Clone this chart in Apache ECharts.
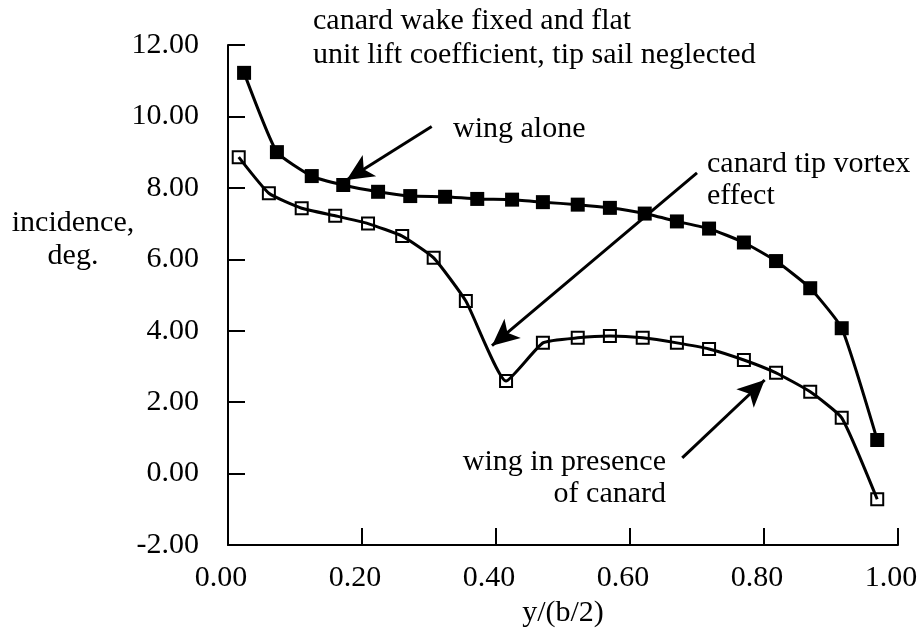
<!DOCTYPE html>
<html>
<head>
<meta charset="utf-8">
<script src="https://cdn.jsdelivr.net/npm/echarts@6/dist/echarts.min.js"></script>
<style>
  html, body { margin: 0; padding: 0; background: #fff; }
  #chart { width: 924px; height: 643px; }
</style>
</head>
<body>
<div id="chart"></div>
<script>
// Spanwise stations y/(b/2) and incidence (deg.) for each case
const wingAloneX = [0.024, 0.073, 0.125, 0.172, 0.224, 0.272, 0.324, 0.372, 0.424, 0.470,
                    0.522, 0.570, 0.622, 0.670, 0.718, 0.770, 0.818, 0.869, 0.916, 0.969];
const wingAloneY = [11.22, 9.00, 8.33, 8.08, 7.89, 7.77, 7.75, 7.69, 7.67, 7.60,
                    7.53, 7.44, 7.28, 7.06, 6.86, 6.47, 5.95, 5.19, 4.07, 0.94];
const withCanardX = [0.016, 0.061, 0.110, 0.160, 0.209, 0.260, 0.307, 0.355, 0.415, 0.470,
                     0.522, 0.570, 0.619, 0.670, 0.718, 0.770, 0.818, 0.869, 0.916, 0.969];
const withCanardY = [8.86, 7.85, 7.43, 7.22, 7.00, 6.65, 6.04, 4.83, 2.59, 3.66,
                     3.80, 3.85, 3.80, 3.66, 3.49, 3.18, 2.82, 2.29, 1.56, -0.72];

// Axis ranges
const xMin = 0, xMax = 1, xStep = 0.2;
const yMin = -2, yMax = 12, yStep = 2;

// Annotation arrows (tail -> head) in data coordinates
const arrowWingAlone = [[0.304, 9.72], [0.177, 8.22]];
const arrowTipVortex = [[0.700, 8.42], [0.394, 3.58]];
const arrowInPresence = [[0.678, 0.44], [0.801, 2.62]];

const FONT = '"Liberation Serif", "Times New Roman", Times, serif';
const FS = 30;

const zip = (xs, ys) => xs.map((x, i) => [x, ys[i]]);

const arrowLine = (pair) => [
  { coord: pair[0], symbol: 'none' },
  { coord: pair[1], symbol: 'arrow', symbolSize: [19, 27] }
];

const chart = echarts.init(document.getElementById('chart'), null, { renderer: 'canvas' });

chart.setOption({
  animation: false,
  backgroundColor: '#ffffff',
  textStyle: { fontFamily: FONT, color: '#000' },
  grid: { left: 228, right: 26, top: 45, bottom: 98, containLabel: false },
  xAxis: {
    type: 'value',
    min: xMin, max: xMax, interval: xStep,
    name: 'y/(b/2)',
    nameLocation: 'middle',
    nameGap: 52,
    nameTextStyle: { fontFamily: FONT, fontSize: FS, color: '#000' },
    axisLine: { show: true, onZero: false, lineStyle: { color: '#000', width: 2 } },
    axisTick: { show: true, inside: true, length: 17, lineStyle: { color: '#000', width: 2 } },
    axisLabel: {
      fontFamily: FONT, fontSize: FS, color: '#000', margin: 18,
      padding: [0, 14, 0, 0],
      formatter: v => v.toFixed(2)
    },
    splitLine: { show: false }
  },
  yAxis: {
    type: 'value',
    min: yMin, max: yMax, interval: yStep,
    axisLine: { show: true, onZero: false, lineStyle: { color: '#000', width: 2 } },
    axisTick: { show: true, inside: true, length: 17, lineStyle: { color: '#000', width: 2 } },
    axisLabel: {
      fontFamily: FONT, fontSize: FS, color: '#000', margin: 29,
      formatter: v => v.toFixed(2)
    },
    splitLine: { show: false }
  },
  series: [
    {
      name: 'wing alone',
      type: 'line',
      data: zip(wingAloneX, wingAloneY),
      smooth: 0.15,
      symbol: 'rect',
      symbolSize: 14,
      lineStyle: { color: '#000', width: 3 },
      itemStyle: { color: '#000' },
      z: 3,
      markLine: {
        silent: true,
        symbol: ['none', 'arrow'],
        label: { show: false },
        lineStyle: { color: '#000', width: 3, type: 'solid' },
        emphasis: { disabled: true },
        data: [arrowLine(arrowWingAlone), arrowLine(arrowTipVortex), arrowLine(arrowInPresence)]
      }
    },
    {
      name: 'wing in presence of canard',
      type: 'line',
      data: zip(withCanardX, withCanardY),
      smooth: 0.15,
      symbol: 'rect',
      symbolSize: 12,
      lineStyle: { color: '#000', width: 3 },
      itemStyle: { color: 'rgba(255,255,255,0)', borderColor: '#000', borderWidth: 2 },
      z: 3
    }
  ],
  graphic: [
    { type: 'text', left: 313, top: 6,
      style: { text: 'canard wake fixed and flat', font: FS + 'px ' + FONT, fill: '#000' } },
    { type: 'text', left: 313, top: 40,
      style: { text: 'unit lift coefficient, tip sail neglected', font: FS + 'px ' + FONT, fill: '#000' } },
    { type: 'text', left: 453, top: 114,
      style: { text: 'wing alone', font: FS + 'px ' + FONT, fill: '#000' } },
    { type: 'text', left: 707, top: 148,
      style: { text: 'canard tip vortex\neffect', font: FS + 'px ' + FONT, fill: '#000', lineHeight: 32 } },
    { type: 'text', x: 666, y: 447,
      style: { text: 'wing in presence', font: FS + 'px ' + FONT, fill: '#000', align: 'right' } },
    { type: 'text', x: 666, y: 479,
      style: { text: 'of canard', font: FS + 'px ' + FONT, fill: '#000', align: 'right' } },
    { type: 'text', x: 73, y: 208,
      style: { text: 'incidence,', font: FS + 'px ' + FONT, fill: '#000', align: 'center' } },
    { type: 'text', x: 73, y: 241,
      style: { text: 'deg.', font: FS + 'px ' + FONT, fill: '#000', align: 'center' } }
  ]
});
</script>
</body>
</html>
